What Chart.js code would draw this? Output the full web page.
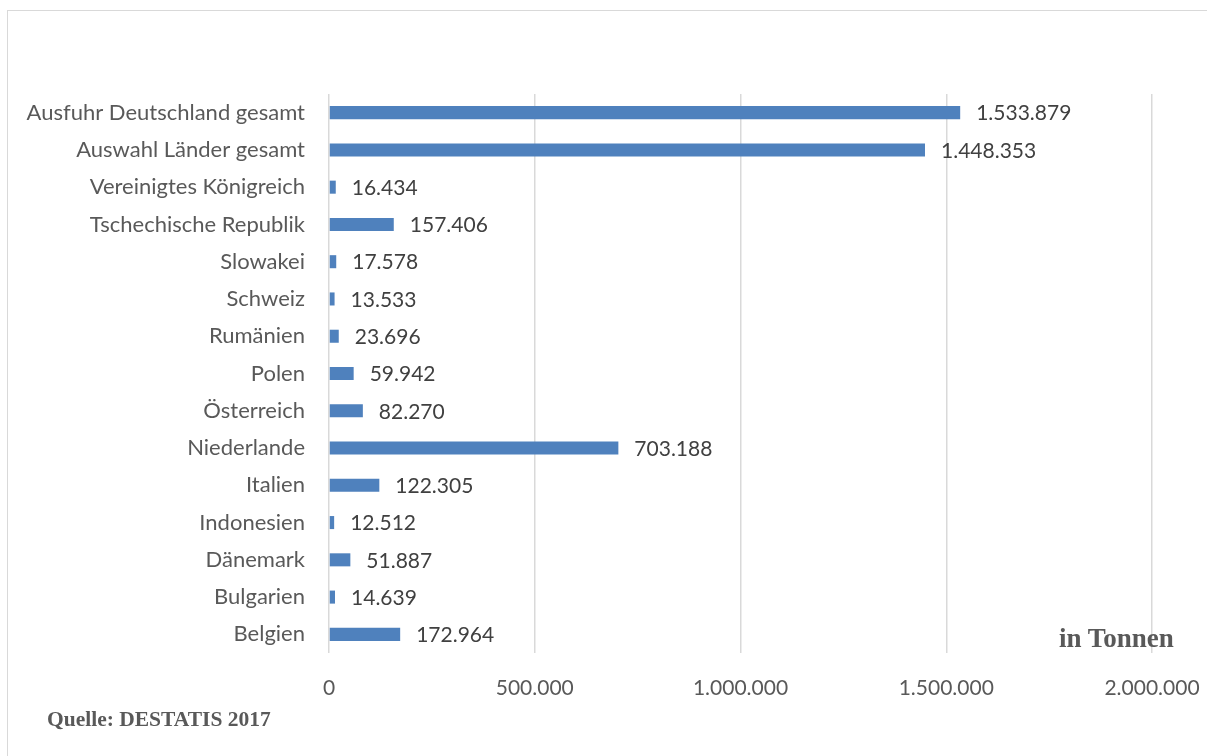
<!DOCTYPE html>
<html>
<head>
<meta charset="utf-8">
<script src="https://cdn.jsdelivr.net/npm/chart.js@4/dist/chart.umd.min.js"></script>
<style>
	html, body { margin: 0; padding: 0; background: #fff; }
	#wrap { position: relative; width: 1207px; height: 756px; overflow: hidden; }
	#frame { position: absolute; left: 7px; top: 10px; width: 1300px; height: 800px; border-left: 1.5px solid #d9d9d9; border-top: 1.5px solid #d9d9d9; }
	.note { position: absolute; font-family: "Liberation Serif", "DejaVu Serif", serif; font-weight: bold; color: #595959; line-height: 1; white-space: nowrap; }
	#unit { left: 1059px; top: 625px; font-size: 27px; }
	#source { left: 47px; top: 709px; font-size: 21.5px; }
</style>
</head>
<body>
<div id="wrap">
	<div id="frame"></div>
	<canvas id="chart" width="1207" height="756"></canvas>
	<div class="note" id="unit">in Tonnen</div>
	<div class="note" id="source">Quelle: DESTATIS 2017</div>
</div>
<script>
const laender = [
	'Ausfuhr Deutschland gesamt', 'Auswahl Länder gesamt', 'Vereinigtes Königreich',
	'Tschechische Republik', 'Slowakei', 'Schweiz', 'Rumänien', 'Polen', 'Österreich',
	'Niederlande', 'Italien', 'Indonesien', 'Dänemark', 'Bulgarien', 'Belgien'
];
const tonnen = [
	1533879, 1448353, 16434, 157406, 17578, 13533, 23696, 59942, 82270,
	703188, 122305, 12512, 51887, 14639, 172964
];
const xTicks = [0, 500000, 1000000, 1500000, 2000000];

const fmt = (v) => String(Math.round(v)).replace(/\B(?=(\d{3})+(?!\d))/g, '.');
const font = 'Lato, "Open Sans", sans-serif';

const valueLabels = {
	id: 'valueLabels',
	afterDatasetsDraw(chart) {
		const ctx = chart.ctx;
		const meta = chart.getDatasetMeta(0);
		ctx.save();
		ctx.font = '21px ' + font;
		ctx.fillStyle = '#404040';
		ctx.textAlign = 'left';
		ctx.textBaseline = 'middle';
		meta.data.forEach((bar, i) => {
			ctx.fillText(fmt(tonnen[i]), bar.x + 16, bar.y + 1);
		});
		ctx.restore();
	}
};

new Chart(document.getElementById('chart'), {
	type: 'bar',
	data: {
		labels: laender,
		datasets: [{
			data: tonnen,
			backgroundColor: '#4F81BD',
			borderWidth: 0,
			barPercentage: 0.7,
			categoryPercentage: 0.5
		}]
	},
	options: {
		indexAxis: 'y',
		responsive: false,
		animation: false,
		layout: { padding: { left: 0, top: 94, right: 55, bottom: 0 } },
		plugins: { legend: { display: false }, tooltip: { enabled: false } },
		scales: {
			x: {
				min: 0,
				max: 2000000,
				afterBuildTicks: (scale) => { scale.ticks = xTicks.map(v => ({ value: v })); },
				afterFit: (scale) => {
					scale.height = 103;
					scale.paddingLeft = 0;
					scale.paddingRight = 0;
				},
				grid: { color: '#d9d9d9', lineWidth: 1.5, drawTicks: false },
				border: { display: false },
				ticks: {
					padding: 23,
					maxRotation: 0,
					color: '#595959',
					font: { size: 21, family: font },
					callback: (v) => fmt(v)
				}
			},
			y: {
				afterFit: (scale) => {
					scale.width = 329;
					scale.paddingTop = 0;
					scale.paddingBottom = 0;
				},
				grid: { display: false },
				border: { display: false },
				ticks: {
					padding: 16,
					color: '#595959',
					font: { size: 22, family: font }
				}
			}
		}
	},
	plugins: [valueLabels]
});
</script>
</body>
</html>
